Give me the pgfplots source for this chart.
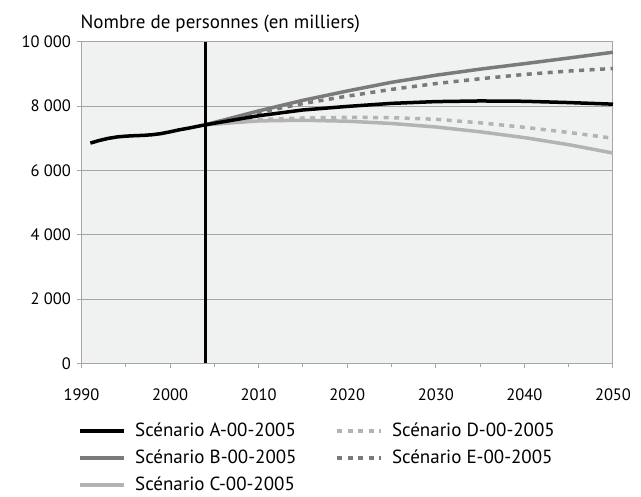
\documentclass[border=0pt]{standalone}
\usepackage{pgfplots}
\pgfplotsset{compat=1.18}
\usepackage{fontspec}
\setmainfont{PT Sans}

\definecolor{bggray}{HTML}{F0F1F1}
\definecolor{axgray}{HTML}{A6A6A6}
\definecolor{darkgr}{HTML}{7A7A7A}
\definecolor{lightgr}{HTML}{B3B3B3}

% historique + scenario A
\pgfplotstableread{
year val
1991 6850
1992 6930
1993 6995
1994 7040
1995 7065
1996 7080
1997 7090
1998 7110
1999 7145
2000 7200
2001 7260
2002 7310
2003 7365
2004 7420
2010 7700
2015 7880
2020 7990
2025 8085
2030 8140
2035 8160
2040 8150
2045 8110
2050 8060
}\scenA
\pgfplotstableread{
year val
2004 7420
2010 7850
2015 8180
2020 8470
2025 8740
2030 8960
2035 9150
2040 9320
2045 9495
2050 9675
}\scenB
\pgfplotstableread{
year val
2004 7420
2010 7540
2015 7560
2020 7530
2025 7460
2030 7350
2035 7200
2040 7020
2045 6800
2050 6540
}\scenC
\pgfplotstableread{
year val
2004 7420
2010 7580
2015 7630
2020 7650
2025 7640
2030 7590
2035 7480
2040 7340
2045 7180
2050 7000
}\scenD
\pgfplotstableread{
year val
2004 7420
2010 7800
2015 8080
2020 8310
2025 8520
2030 8700
2035 8850
2040 8985
2045 9090
2050 9170
}\scenE

\begin{document}
\fontsize{19bp}{22bp}\selectfont
\begin{tikzpicture}
\begin{axis}[
  scale only axis,
  width=531.5bp, height=321.5bp,
  xmin=1990, xmax=2050, ymin=0, ymax=10000,
  scaled y ticks=false, scaled x ticks=false,
  axis background/.style={fill=bggray},
  axis line style={draw=axgray, line width=1bp},
  xtick={1990,2000,...,2050},
  xticklabels={1990,2000,2010,2020,2030,2040,2050},
  minor xtick={1995,2005,...,2045},
  ytick={0,2000,...,10000},
  yticklabels={0,2 000,4 000,6 000,8 000,10 000},
  xtick pos=left, ytick pos=left,
  tick align=outside,
  major tick length=5bp, minor tick length=4bp,
  tick style={draw=axgray, line width=1bp},
  ymajorgrids,
  grid style={draw=axgray, line width=1bp},
  tick label style={font=\fontsize{16.5bp}{19bp}\selectfont},
  xticklabel style={yshift=-14bp},
  yticklabel style={xshift=1bp},
  legend columns=2,
  legend cell align=left,
  legend style={at={(0,0)}, anchor=north west, xshift=-3bp, yshift=-57bp,
    draw=none, fill=none, inner sep=0pt,
    font=\fontsize{19bp}{22bp}\selectfont,
    row sep=6.5bp,
    /tikz/every odd column/.append style={column sep=7bp},
    /tikz/every even column/.append style={column sep=37bp}},
  legend image code/.code={\draw[#1] (0bp,0bp) -- (44bp,0bp);},
  clip=false,
]
\addplot[lightgr, line width=3.5bp, forget plot] table[x=year,y=val] {\scenC};
\addplot[lightgr, line width=3.5bp, dash pattern=on 5bp off 5.5bp, forget plot] table[x=year,y=val] {\scenD};
\addplot[darkgr, line width=3.5bp, forget plot] table[x=year,y=val] {\scenB};
\addplot[darkgr, line width=3.5bp, dash pattern=on 5bp off 5.5bp, forget plot] table[x=year,y=val] {\scenE};
\addplot[black, line width=3.5bp, forget plot] table[x=year,y=val] {\scenA};
\addplot[black, line width=2.5bp, forget plot] coordinates {(2004,0) (2004,10000)};

\addlegendimage{black, line width=3.5bp}
\addlegendentry{Scénario A-00-2005}
\addlegendimage{lightgr, line width=3.5bp, dash pattern=on 5bp off 5.5bp}
\addlegendentry{Scénario D-00-2005}
\addlegendimage{darkgr, line width=3.5bp}
\addlegendentry{Scénario B-00-2005}
\addlegendimage{darkgr, line width=3.5bp, dash pattern=on 5bp off 5.5bp}
\addlegendentry{Scénario E-00-2005}
\addlegendimage{lightgr, line width=3.5bp}
\addlegendentry{Scénario C-00-2005}

\node[anchor=base west, inner sep=0pt] at (rel axis cs:0,1) [yshift=13.5bp, xshift=-1bp] {Nombre de personnes (en milliers)};
\end{axis}
\pgfresetboundingbox
\path (-81.5bp,-133.7bp) rectangle (559.5bp,363.3bp);
\end{tikzpicture}
\end{document}
